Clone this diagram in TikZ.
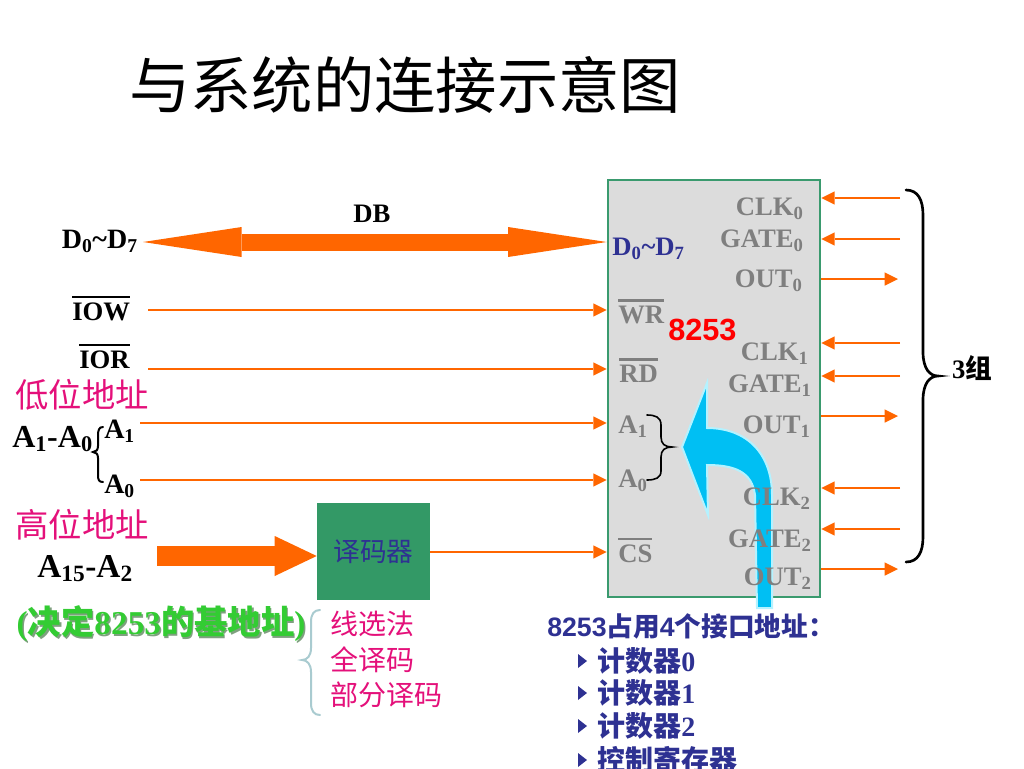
\documentclass[tikz,border=0pt]{standalone}
\usepackage{fontspec}
\setmainfont{Liberation Serif}
\newfontfamily\cjk{Noto Sans CJK SC}
\newfontfamily\sansb{Liberation Sans}
\usetikzlibrary{arrows.meta,calc}
\definecolor{org}{HTML}{FF6600}
\definecolor{pinkc}{HTML}{E4107A}
\definecolor{navy}{HTML}{2E3192}
\definecolor{grayt}{HTML}{7F7F7F}
\definecolor{chipfill}{HTML}{DCDCDC}
\definecolor{chipedge}{HTML}{3A9A6E}
\definecolor{decfill}{HTML}{339966}
\definecolor{cyanar}{HTML}{00BFF3}
\definecolor{cyanedge}{HTML}{B4F2FF}
\definecolor{greent}{HTML}{33CC33}
\definecolor{greensh}{HTML}{7FA07F}
\definecolor{bracec}{HTML}{A9CBD0}
\definecolor{redt}{HTML}{FF0000}
\newcommand\fz[1]{\fontsize{#1}{#1}\selectfont}
\newcommand\ovl[1]{\vbox{\hrule height 1.6pt\kern 3pt\hbox{#1}}}
\tikzset{
  sig/.style={draw=org, line width=2pt, -{Triangle[length=10pt,width=10pt,line width=0pt]}},
  dbar/.style={draw=org, line width=12.75pt, {Triangle[length=74pt,width=22.5pt,line width=0pt]}-{Triangle[length=74pt,width=22.5pt,line width=0pt]}},
  hiar/.style={draw=org, line width=15pt, -{Triangle[length=31.5pt,width=30pt,line width=0pt]}},
  chipbox/.style={draw=chipedge, fill=chipfill, line width=2pt, minimum width=159pt, minimum height=312.75pt, inner sep=0pt},
  decbox/.style={fill=decfill, minimum width=84.75pt, minimum height=72.75pt, inner sep=0pt},
  lbl/.style={inner sep=0pt, font=\bfseries\fz{20pt}},
  pinl/.style={lbl, text=grayt},
  brc/.style={line width=1.5pt, line cap=round},
}
\begin{document}
\begin{tikzpicture}[x=0.75pt,y=-0.75pt]
\useasboundingbox (0,0) rectangle (1024,768);

% title
\node (title) at (405,85) {\cjk\fz{46pt}与系统的连接示意图};

% chip and decoder
\node[chipbox] (chip) at (714,388.5) {};
\node[decbox] (dec) at (373.5,551.5) {\cjk\fz{20pt}\color{navy}译码器};

% left labels
\node[lbl] (db) at (372,214) {DB};
\node[lbl, anchor=base east] (dl) at (138,248) {\fz{21pt}D\textsubscript{0}\textasciitilde D\textsubscript{7}};
\node[lbl, anchor=base west] (iow) at (72,320) {\ovl{IOW}};
\node[lbl, anchor=base west] (ior) at (79,368) {\ovl{IOR}};
\node (low) at (82,395) {\cjk\fz{25pt}\color{pinkc}低位地址};
\node[inner sep=0pt, anchor=base west] (a10) at (12,447) {\bfseries\fz{24pt}A\textsubscript{1}-A\textsubscript{0}};
\node[inner sep=0pt, anchor=base west] (a1) at (104,438) {\bfseries\fz{21pt}A\textsubscript{1}};
\node[inner sep=0pt, anchor=base west] (a0) at (104,493) {\bfseries\fz{21pt}A\textsubscript{0}};
\node (high) at (82,525) {\cjk\fz{25pt}\color{pinkc}高位地址};
\node[inner sep=0pt, anchor=base west] (a152) at (37,577) {\bfseries\fz{25pt}A\textsubscript{15}-A\textsubscript{2}};

% brace A1-A0
\draw[brc] (103,427) .. controls (99,427) and (98,430) .. (98,436) -- (98,446) .. controls (98,450) and (96,452) .. (93,452) .. controls (96,452) and (98,454) .. (98,458) -- (98,475) .. controls (98,480) and (99,482) .. (103,482);

% connectors, left
\coordinate (dbL) at (143,242);
\coordinate (iowS) at (148,310);
\coordinate (iorS) at (148,369);
\coordinate (a1S) at (140,423);
\coordinate (a0S) at (140,480);
\coordinate (hiS) at (157,556);
\coordinate (csP) at (608,552);
\draw[dbar] (dbL) -- (dbL -| chip.west);
\draw[sig] (iowS) -- (iowS -| chip.west);
\draw[sig] (iorS) -- (iorS -| chip.west);
\draw[sig] (a1S) -- (a1S -| chip.west);
\draw[sig] (a0S) -- (a0S -| chip.west);
\draw[hiar] (hiS) -- (hiS -| dec.west);
\draw[sig] (dec.east |- csP) -- (csP -| chip.west);

% connectors, right
\foreach \y [count=\i] in {198,239,343,376,488,529} {
  \coordinate (in\i) at (900,\y);
  \draw[sig] (in\i) -- (in\i -| chip.east);
}
\foreach \y [count=\i] in {279,416,569} {
  \coordinate (out\i) at (898,\y);
  \draw[sig] (out\i -| chip.east) -- (out\i);
}

% big brace right
\draw[line width=2pt, line cap=round] (906,190) .. controls (918,190) and (923,200) .. (923,215) -- (923,352) .. controls (923,369) and (930,376) .. (938,376) .. controls (930,376) and (923,383) .. (923,400) -- (923,537) .. controls (923,552) and (918,562) .. (906,562);
\node (grp) at (972,368) {\bfseries\fz{20pt}3{\cjk 组}};

% blue curved arrow
\draw[fill=cyanar, draw=cyanedge, line width=1.5pt, line join=miter]
  (757,608) -- (755,495) .. controls (752,472) and (735,465) .. (707,465)
  -- (708,515) -- (682,447) -- (707,383) -- (707,428)
  .. controls (748,428) and (772,455) .. (772,495) -- (772,608) -- cycle;

% chip pin labels
\node[lbl, anchor=base west, text=navy] (cd) at (612,255) {D\textsubscript{0}\textasciitilde D\textsubscript{7}};
\node[pinl, anchor=base west] (cwr) at (618,323) {\color{grayt}\ovl{WR}};
\node[pinl, anchor=base west] (crd) at (619,382) {\color{grayt}\ovl{RD}};
\node[pinl, anchor=base west] (ca1) at (618,433) {A\textsubscript{1}};
\node[pinl, anchor=base west] (ca0) at (618,487) {A\textsubscript{0}};
\node[pinl, anchor=base west] (ccs) at (618,562) {\color{grayt}\ovl{CS}};
\node[inner sep=0pt, anchor=base west] (c8253) at (668,340) {\sansb\bfseries\fz{23pt}\color{redt}8253};

\node[pinl, anchor=base east] (clk0) at (804,215) {CLK\textsubscript{0}};
\node[pinl, anchor=base east] (gate0) at (804,247) {GATE\textsubscript{0}};
\node[pinl, anchor=base east] (out0) at (803,287) {OUT\textsubscript{0}};
\node[pinl, anchor=base east] (clk1) at (809,360) {CLK\textsubscript{1}};
\node[pinl, anchor=base east] (gate1) at (812,392) {GATE\textsubscript{1}};
\node[pinl, anchor=base east] (out1) at (811,433) {OUT\textsubscript{1}};
\node[pinl, anchor=base east] (clk2) at (811,505) {CLK\textsubscript{2}};
\node[pinl, anchor=base east] (gate2) at (812,547) {GATE\textsubscript{2}};
\node[pinl, anchor=base east] (out2) at (812,585) {OUT\textsubscript{2}};

% chip brace
\draw[line width=1.2pt, line cap=round] (647,415) .. controls (655,415) and (661,417) .. (661,425) -- (661,437) .. controls (661,444) and (665,447) .. (672,447) .. controls (665,447) and (661,450) .. (661,457) -- (661,471) .. controls (661,478) and (655,480) .. (647,480);

% bottom left
\node[anchor=west, text=greensh] (baseSh) at (13.5,625.5) {{\bfseries\fz{25pt}(}{\cjk\bfseries\fz{25pt}决定}{\bfseries\fz{25pt}8253}{\cjk\bfseries\fz{25pt}的基地址}{\bfseries\fz{25pt})}};
\node[anchor=west, text=greent] (base) at (12,624) {{\bfseries\fz{25pt}(}{\cjk\bfseries\fz{25pt}决定}{\bfseries\fz{25pt}8253}{\cjk\bfseries\fz{25pt}的基地址}{\bfseries\fz{25pt})}};
\draw[brc, draw=bracec] (320,610) .. controls (314,610) and (311,614) .. (311,622) -- (311,648) .. controls (311,656) and (307,660) .. (302,660) .. controls (307,660) and (311,664) .. (311,672) -- (311,703) .. controls (311,711) and (314,715) .. (320,715);
\node[anchor=west, inner sep=0pt] (m1) at (330,624) {\cjk\fz{21pt}\color{pinkc}线选法};
\node[anchor=west, inner sep=0pt] (m2) at (330,660) {\cjk\fz{21pt}\color{pinkc}全译码};
\node[anchor=west, inner sep=0pt] (m3) at (330,695) {\cjk\fz{21pt}\color{pinkc}部分译码};

% bottom right
\node[anchor=west, inner sep=0pt, text=navy] (occ) at (547,626) {{\sansb\bfseries\fz{20pt}8253}{\cjk\bfseries\fz{20pt}占用}{\sansb\bfseries\fz{20pt}4}{\cjk\bfseries\fz{20pt}个接口地址：}};
\foreach \y/\t/\n in {661/计数器/0, 693/计数器/1, 726/计数器/2, 760/控制寄存器/} {
  \fill[navy] (578,\y-7) -- (587,\y) -- (578,\y+7) -- cycle;
  \node[anchor=west, inner sep=0pt, text=navy] at (597,\y) {{\cjk\bfseries\fz{21pt}\t}{\bfseries\fz{21pt}\n}};
}
\end{tikzpicture}
\end{document}
